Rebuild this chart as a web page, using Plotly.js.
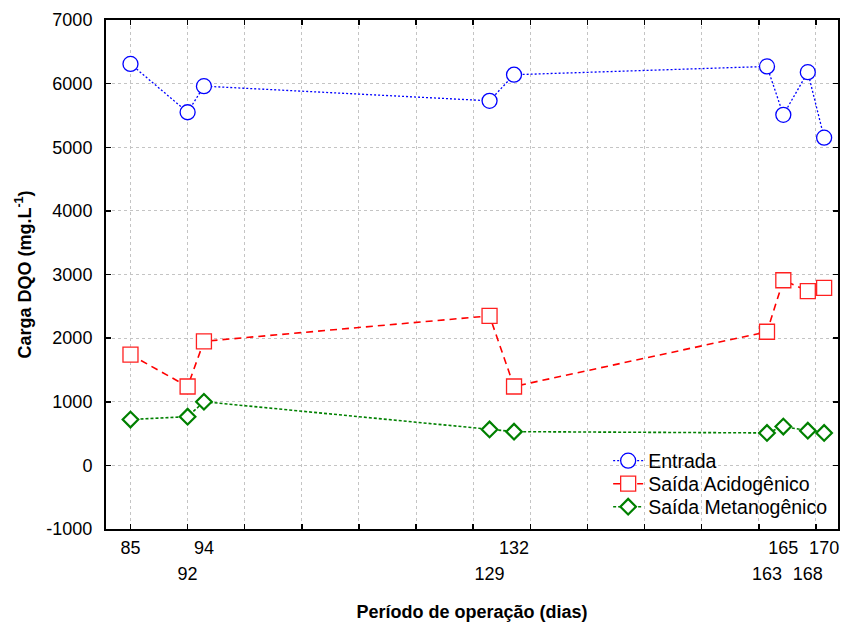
<!DOCTYPE html>
<html>
<head>
<meta charset="utf-8">
<script src="https://cdn.plot.ly/plotly-3.0.1.min.js"></script>
<style>
  html, body { margin: 0; padding: 0; background: #fff; }
  #chart { width: 843px; height: 626px; }
</style>
</head>
<body>
<div id="chart"></div>
<script>
// Operation days (x) and COD load (mg/L) for each sampling point
const days = [85, 92, 94, 129, 132, 163, 165, 168, 170];
const entrada = [6310, 5550, 5960, 5730, 6140, 6270, 5510, 6180, 5150];
const saidaAcidogenico = [1740, 1240, 1950, 2350, 1240, 2100, 2910, 2740, 2790];
const saidaMetanogenico = [720, 765, 1000, 565, 530, 510, 610, 545, 510];

// Y tick values (labels written with a plain hyphen for negatives)
const yTicks = [-1000, 0, 1000, 2000, 3000, 4000, 5000, 6000, 7000];

// Day labels alternate between an upper and a lower row
const upperDays = days.filter((d, i) => i % 2 === 0);
const lowerDays = days.filter((d, i) => i % 2 === 1);

const FONT = 'Liberation Sans, Arial, Helvetica, sans-serif';
const xRange = [82, 171.7];

const traces = [
  {
    x: days, y: entrada, name: 'Entrada', type: 'scatter', mode: 'lines+markers',
    legend: 'legend',
    line: { color: '#0000ff', width: 1.3, dash: '2px,2px' },
    marker: { symbol: 'circle', size: 15, color: '#ffffff', line: { width: 1.3, color: '#0000ff' } }
  },
  {
    x: days, y: saidaAcidogenico, name: 'Saída Acidogênico', type: 'scatter', mode: 'lines+markers',
    legend: 'legend2',
    line: { color: '#ff0000', width: 1.6, dash: '7px,5px' },
    marker: { symbol: 'square', size: 15, color: '#ffffff', line: { width: 1.3, color: '#ff2020' } }
  },
  {
    x: days, y: saidaMetanogenico, name: 'Saída Metanogênico', type: 'scatter', mode: 'lines+markers',
    legend: 'legend3',
    line: { color: '#008000', width: 1.6, dash: '3px,2px' },
    marker: { symbol: 'diamond', size: 12, color: '#ffffff', line: { width: 2.2, color: '#008000' } }
  }
];

const gridStyle = { showgrid: true, gridcolor: '#c4c4c4', gridwidth: 1, griddash: 'dot' };

// One legend box per series, stacked at fixed rows
function legendAt(yCenter) {
  return {
    x: 0.686, y: yCenter, xanchor: 'left', yanchor: 'middle',
    bgcolor: 'rgba(0,0,0,0)', borderwidth: 0,
    font: { family: FONT, size: 19.5, color: '#000' },
    itemwidth: 30
  };
}

const layout = {
  width: 843, height: 626,
  margin: { l: 106, r: 5, t: 20, b: 97 },
  paper_bgcolor: '#fff', plot_bgcolor: '#fff',
  font: { family: FONT, size: 18, color: '#000' },
  showlegend: true,
  legend: legendAt(0.1336),
  legend2: legendAt(0.0884),
  legend3: legendAt(0.0432),
  xaxis: Object.assign({
    range: xRange, tickmode: 'linear', tick0: 85, dtick: 7,
    ticks: 'inside', ticklen: 5, tickwidth: 1.5, tickcolor: '#000',
    showticklabels: false, showline: true, linecolor: '#000', linewidth: 2,
    mirror: 'ticks', zeroline: false
  }, gridStyle),
  xaxis2: {
    overlaying: 'x', anchor: 'y', side: 'bottom', range: xRange,
    tickmode: 'array', tickvals: upperDays, ticktext: upperDays.map(String),
    showgrid: false, zeroline: false, showline: false, ticks: '',
    ticklabelstandoff: 6, tickfont: { family: FONT, size: 18, color: '#000' }
  },
  xaxis3: {
    overlaying: 'x', anchor: 'y', side: 'bottom', range: xRange,
    tickmode: 'array', tickvals: lowerDays, ticktext: lowerDays.map(String),
    showgrid: false, zeroline: false, showline: false, ticks: '',
    ticklabelstandoff: 32, tickfont: { family: FONT, size: 18, color: '#000' },
    title: { text: '<b>Período de operação (dias)</b>', standoff: 22,
             font: { family: FONT, size: 18, color: '#000' } }
  },
  yaxis: Object.assign({
    range: [-1000, 7000], tickmode: 'array', tickvals: yTicks, ticktext: yTicks.map(String),
    ticks: 'inside', ticklen: 5, tickwidth: 1.5, tickcolor: '#000',
    showline: true, linecolor: '#000', linewidth: 2, mirror: 'ticks',
    zeroline: false, ticklabelstandoff: 8,
    title: { text: '<b>Carga DQO (mg.L<sup>-1</sup>)</b>', standoff: 10,
             font: { family: FONT, size: 18, color: '#000' } }
  }, gridStyle)
};

// Empty traces keep the two label axes drawn
traces.push({ x: [], y: [], xaxis: 'x2', showlegend: false, hoverinfo: 'skip' });
traces.push({ x: [], y: [], xaxis: 'x3', showlegend: false, hoverinfo: 'skip' });

Plotly.newPlot('chart', traces, layout, { displayModeBar: false, staticPlot: true });
</script>
</body>
</html>
